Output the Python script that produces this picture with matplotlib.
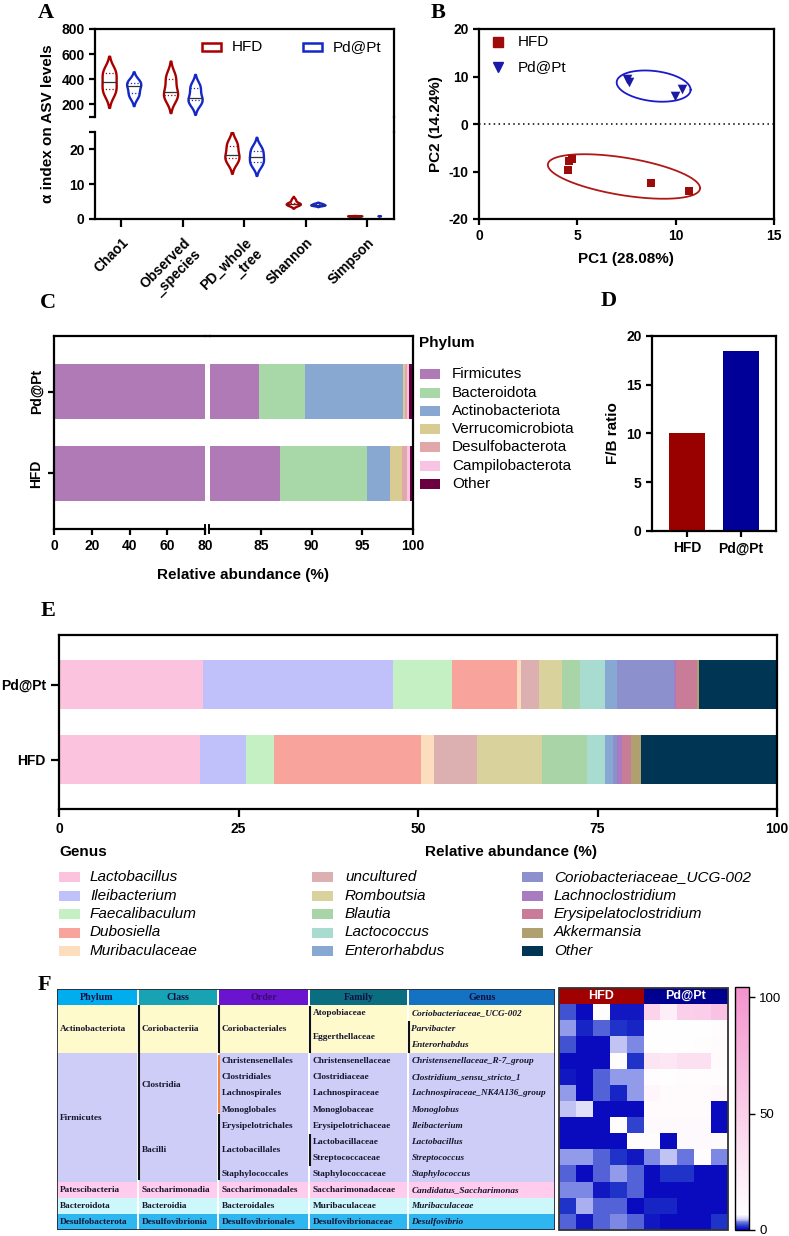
import numpy as np
import matplotlib
matplotlib.use('Agg')
import matplotlib.pyplot as plt
from matplotlib.patches import Rectangle
from matplotlib.lines import Line2D
from matplotlib.colors import LinearSegmentedColormap, Normalize
from matplotlib.cm import ScalarMappable

plt.rcParams['font.family'] = ['Liberation Sans', 'DejaVu Sans']
plt.rcParams['axes.unicode_minus'] = False

# ======================= DATA =======================
# Panel A: alpha diversity samples (per metric, per group)
alpha_metrics = ['Chao1', 'Observed\n_species', 'PD_whole\n_tree', 'Shannon', 'Simpson']
alpha_hfd = [
    [290, 320, 380, 450, 470],
    [250, 275, 300, 400, 430],
    [16.5, 17.5, 18.5, 21.0, 22.0],
    [4.0, 4.2, 4.4, 4.6, 5.6],
    [0.85, 0.88, 0.90, 0.92, 0.95],
]
alpha_pdpt = [
    [265, 290, 345, 370, 385],
    [210, 235, 250, 330, 350],
    [15.5, 16.5, 17.8, 19.5, 20.5],
    [3.9, 4.0, 4.1, 4.3, 4.5],
    [0.90, 0.91, 0.92, 0.93, 0.94],
]
groups = ['HFD', 'Pd@Pt']

# Panel B: PCA scores
pca_hfd_x = [4.5, 4.6, 4.75, 8.75, 10.7]
pca_hfd_y = [-9.7, -7.8, -7.3, -12.5, -14.0]
pca_pdpt_x = [7.55, 7.65, 9.95, 10.3]
pca_pdpt_y = [9.4, 8.9, 6.0, 7.4]
# confidence ellipses: centre x, centre y, half-width, half-thickness, tilt slope
ell_hfd = (7.37, -11.05, 3.87, 4.0, 0.633)
ell_pdpt = (8.88, 7.98, 1.88, 3.2, 0.41)

# Panel C: phylum relative abundance (%)
phyla = ['Firmicutes', 'Bacteroidota', 'Actinobacteriota', 'Verrucomicrobiota',
         'Desulfobacterota', 'Campilobacterota', 'Other']
phylum_hfd = [86.9, 8.6, 2.2, 1.25, 0.5, 0.25, 0.3]
phylum_pdpt = [84.8, 4.6, 9.6, 0.25, 0.2, 0.15, 0.4]

# Panel D: F/B ratio
fb_ratio = [10.1, 18.5]

# Panel E: genus relative abundance (%)
genera = ['Lactobacillus', 'Ileibacterium', 'Faecalibaculum', 'Dubosiella', 'Muribaculaceae',
          'uncultured', 'Romboutsia', 'Blautia', 'Lactococcus', 'Enterorhabdus',
          'Coriobacteriaceae_UCG-002', 'Lachnoclostridium', 'Erysipelatoclostridium',
          'Akkermansia', 'Other']
genus_hfd = [19.7, 6.3, 4.0, 20.4, 1.8, 6.0, 9.1, 6.2, 2.5, 1.2, 0.5, 0.7, 1.3, 1.4, 18.9]
genus_pdpt = [20.1, 26.4, 8.3, 9.0, 0.5, 2.6, 3.1, 2.6, 3.4, 1.7, 8.0, 0.3, 2.9, 0.3, 10.8]

# Panel F: taxonomy table + heatmap
tax_phylum = ['Actinobacteriota'] * 3 + ['Firmicutes'] * 8 + ['Patescibacteria', 'Bacteroidota', 'Desulfobacterota']
tax_class = ['Coriobacteriia'] * 3 + ['Clostridia'] * 4 + ['Bacilli'] * 4 + ['Saccharimonadia', 'Bacteroidia', 'Desulfovibrionia']
tax_order = ['Coriobacteriales'] * 3 + ['Christensenellales', 'Clostridiales', 'Lachnospirales', 'Monoglobales',
             'Erysipelotrichales', 'Lactobacillales', 'Lactobacillales', 'Staphylococcales',
             'Saccharimonadales', 'Bacteroidales', 'Desulfovibrionales']
tax_family = ['Atopobiaceae', 'Eggerthellaceae', 'Eggerthellaceae', 'Christensenellaceae', 'Clostridiaceae',
              'Lachnospiraceae', 'Monoglobaceae', 'Erysipelotrichaceae', 'Lactobacillaceae', 'Streptococcaceae',
              'Staphylococcaceae', 'Saccharimonadaceae', 'Muribaculaceae', 'Desulfovibrionaceae']
tax_genus = ['Coriobacteriaceae_UCG-002', 'Parvibacter', 'Enterorhabdus', 'Christensenellaceae_R-7_group',
             'Clostridium_sensu_stricto_1', 'Lachnospiraceae_NK4A136_group', 'Monoglobus', 'Ileibacterium',
             'Lactobacillus', 'Streptococcus', 'Staphylococcus', 'Candidatus_Saccharimonas',
             'Muribaculaceae', 'Desulfovibrio']
tax_headers = ['Phylum', 'Class', 'Order', 'Family', 'Genus']
heat_values = [
    [2.4, 0.4, 9, 0.5, 0.6, 45, 22, 50, 52, 62],
    [3.9, 1.2, 2.6, 1.6, 1.0, 8, 8, 8, 8, 9],
    [2.2, 0.4, 0.4, 4.6, 3.4, 8, 8, 8, 9, 10],
    [0.3, 0.3, 0.3, 9, 1.3, 30, 28, 35, 35, 10],
    [0.8, 0.4, 2.5, 3.9, 3.9, 9, 7, 9, 9, 9],
    [3.9, 0.4, 2.5, 1.0, 3.9, 15, 10, 10, 10, 14],
    [4.6, 5.4, 0.3, 0.3, 0.3, 10, 10, 10, 10, 0.3],
    [0.3, 0.3, 0.3, 9, 1.8, 12, 12, 12, 12, 0.3],
    [0.3, 0.3, 0.3, 0.3, 9, 9, 0.4, 12, 12, 10],
    [3.7, 3.7, 2.5, 1.5, 0.8, 3.5, 4.5, 3.1, 9, 3.3],
    [2.5, 0.4, 2.8, 3.9, 2.6, 0.4, 1.4, 1.4, 0.4, 0.4],
    [3.4, 3.4, 0.6, 1.5, 2.8, 0.3, 0.3, 0.3, 0.3, 0.3],
    [1.6, 4.2, 2.5, 2.5, 0.3, 1.0, 1.0, 0.3, 0.3, 0.3],
    [2.6, 0.8, 2.5, 3.5, 2.5, 0.5, 0.4, 0.4, 0.4, 1.6],
]
heat_max = 104.3

# ======================= STYLE =======================
W, H = 789, 1236
RED = '#A80000'
BLUE = '#1428C8'
DRED = '#990000'
NAVY = '#000099'
phylum_colors = ['#B07AB6', '#A8D8A8', '#88A8D2', '#D8CC92', '#E0A8A8', '#F9C3E3', '#6A0040']
genus_colors = ['#FBC3DD', '#C0C0FA', '#C4F0C4', '#F8A49C', '#FCDDBE', '#DCB0B0', '#DAD29C',
                '#A8D4A8', '#A8DCD0', '#88A8D4', '#8C90CC', '#A87CC0', '#C87C98', '#B0A070', '#003554']
header_colors = ['#00AEEF', '#17A3B4', '#6A14D0', '#0B6E80', '#1472C2']
row_bg = {'Actinobacteriota': '#FFFACC', 'Firmicutes': '#CDCDF7', 'Patescibacteria': '#FFCCEE',
          'Bacteroidota': '#CCF8FB', 'Desulfobacterota': '#2DB6EF'}
TICK = 10
LAB = 11
SPW = 1.6

fig = plt.figure(figsize=(W / 100, H / 100), dpi=100)


def box(l, t, r, b):
    return [l / W, 1 - b / H, (r - l) / W, (b - t) / H]


def fx(x):
    return x / W


def fy(y):
    return 1 - y / H


def style_ax(ax):
    for s in ax.spines.values():
        s.set_linewidth(SPW)
    ax.tick_params(width=SPW, length=4, labelsize=TICK)
    for lab in ax.get_xticklabels() + ax.get_yticklabels():
        lab.set_fontweight('bold')


def fig_line(x0, y0, x1, y1, **kw):
    fig.add_artist(Line2D([fx(x0), fx(x1)], [fy(y0), fy(y1)], transform=fig.transFigure, **kw))


def panel_letter(x, y, s):
    fig.text(fx(x), fy(y), s, fontsize=16, fontweight='bold', family=['Liberation Serif'],
             ha='center', va='center')


# ======================= PANEL A =======================
def draw_violin(ax, samples, pos, halfw, color):
    s = np.asarray(samples, float)
    bw = s.std(ddof=1) * len(s) ** (-0.2)
    y = np.linspace(s.min() - 2.0 * bw, s.max() + 2.0 * bw, 300)
    d = np.exp(-0.5 * ((y[:, None] - s[None, :]) / bw) ** 2).sum(1)
    d = d / d.max() * halfw
    ax.fill_betweenx(y, pos - d, pos + d, facecolor='white', edgecolor=color, lw=1.7, zorder=3)
    med = np.median(s)
    q1, q3 = np.percentile(s, [25, 75])
    for q, ls in ((med, '-'), (q1, ':'), (q3, ':')):
        w = np.interp(q, y, d)
        ax.plot([pos - w, pos + w], [q, q], color='#333333' if ls == '-' else color,
                lw=0.9, ls=ls, zorder=4)


axA_top = fig.add_axes(box(95, 29, 394, 117))
axA_bot = fig.add_axes(box(95, 132, 394, 219))
for ax in (axA_top, axA_bot):
    ax.set_xlim(-0.43, 4.44)
    for i in range(len(alpha_metrics)):
        draw_violin(ax, alpha_hfd[i], i - 0.2, 0.115, RED)
        draw_violin(ax, alpha_pdpt[i], i + 0.2, 0.02 if i == 4 else 0.115, BLUE)
axA_top.set_ylim(100, 800)
axA_top.set_yticks([100, 200, 400, 600, 800])
axA_top.set_yticklabels(['', '200', '400', '600', '800'])
axA_top.spines['bottom'].set_visible(False)
axA_top.set_xticks([])
axA_bot.set_ylim(0, 25)
axA_bot.set_yticks([0, 10, 20, 25])
axA_bot.set_yticklabels(['0', '10', '20', ''])
axA_bot.spines['top'].set_visible(False)
axA_bot.set_xticks(range(len(alpha_metrics)))
axA_bot.set_xticklabels(alpha_metrics, rotation=45, ha='right', va='top', rotation_mode='anchor')
style_ax(axA_top)
style_ax(axA_bot)
axA_bot.tick_params(axis='x', length=6, pad=6)
fig_line(394, 117, 394, 132, color='black', lw=SPW)
fig.text(fx(48), fy(124), 'α index on ASV levels', rotation=90, ha='center', va='center',
         fontsize=LAB, fontweight='bold')
# legend
for k, (g, c, xr) in enumerate(zip(groups, [RED, BLUE], [202, 303])):
    fig.add_artist(Rectangle((fx(xr), fy(51)), 19 / W, 8 / H, transform=fig.transFigure,
                             facecolor='white', edgecolor=c, lw=1.8))
    fig.text(fx(xr + 30), fy(47), g, fontsize=LAB, va='center', ha='left')

# ======================= PANEL B =======================
axB = fig.add_axes(box(479, 29, 774, 219))
axB.set_xlim(0, 15)
axB.set_ylim(-20, 20)
axB.set_xticks([0, 5, 10, 15])
axB.set_yticks([-20, -10, 0, 10, 20])
axB.axhline(0, color='black', lw=1.1, ls=(0, (1, 2.2)))
t = np.linspace(0, 2 * np.pi, 300)
for (cx, cy, a, b, m), c in ((ell_hfd, '#B01818'), (ell_pdpt, '#1A1ACC')):
    axB.plot(cx + a * np.cos(t), cy + b * np.sin(t) - m * a * np.cos(t), color=c, lw=1.3)
axB.scatter(pca_hfd_x, pca_hfd_y, marker='s', s=38, color='#9E0B0B', zorder=5, lw=0)
axB.scatter(pca_pdpt_x, pca_pdpt_y, marker='v', s=48, color='#1A1AA6', zorder=5, lw=0)
style_ax(axB)
fig.text(fx(626), fy(259), 'PC1 (28.08%)', ha='center', va='center', fontsize=LAB, fontweight='bold')
fig.text(fx(436), fy(124), 'PC2 (14.24%)', rotation=90, ha='center', va='center', fontsize=LAB,
         fontweight='bold')
fig.add_artist(Line2D([fx(498)], [fy(42)], marker='s', color='#9E0B0B', ms=6.5, lw=0,
                      transform=fig.transFigure))
fig.add_artist(Line2D([fx(498)], [fy(67)], marker='v', color='#1A1AA6', ms=7, lw=0,
                      transform=fig.transFigure))
fig.text(fx(518), fy(42), groups[0], fontsize=LAB, va='center')
fig.text(fx(518), fy(67), groups[1], fontsize=LAB, va='center')

# ======================= PANEL C =======================
axC1 = fig.add_axes(box(54, 336, 205, 529))
axC2 = fig.add_axes(box(210, 336, 413, 529))
for ax in (axC1, axC2):
    for yi, vals in enumerate([phylum_hfd, phylum_pdpt]):
        left = 0.0
        for v, c in zip(vals, phylum_colors):
            ax.barh(yi, v, left=left, height=0.67, color=c, lw=0)
            left += v
    ax.set_ylim(-0.677, 1.677)
axC1.set_xlim(0, 80)
axC2.set_xlim(80, 100)
axC1.set_xticks([0, 20, 40, 60, 80])
axC2.set_xticks([85, 90, 95, 100])
axC1.set_yticks([0, 1])
axC1.set_yticklabels(groups, rotation=90, va='center')
axC2.set_yticks([])
axC1.spines['right'].set_visible(False)
axC2.spines['left'].set_visible(False)
style_ax(axC1)
style_ax(axC2)
fig_line(205, 336, 210, 336, color='black', lw=SPW)
fig_line(205, 525, 205, 533, color='black', lw=1.4)
fig_line(209, 525, 209, 533, color='black', lw=1.4)
fig.text(fx(243), fy(575), 'Relative abundance (%)', ha='center', va='center', fontsize=LAB,
         fontweight='bold')
fig.text(fx(419), fy(343), 'Phylum', fontsize=LAB, fontweight='bold', va='center', ha='left')
for i, (name, c) in enumerate(zip(phyla, phylum_colors)):
    yc = 374.3 + i * 18.25
    fig.add_artist(Rectangle((fx(420), fy(yc + 5)), 20 / W, 10 / H, transform=fig.transFigure,
                             facecolor=c, lw=0))
    fig.text(fx(452), fy(yc), name, fontsize=LAB, va='center', ha='left')

# ======================= PANEL D =======================
axD = fig.add_axes(box(652, 336, 776, 531))
axD.bar([0, 1], fb_ratio, width=0.67, color=[DRED, NAVY])
axD.set_xlim(-0.65, 1.65)
axD.set_ylim(0, 20)
axD.set_yticks([0, 5, 10, 15, 20])
axD.set_xticks([0, 1])
axD.set_xticklabels(groups)
style_ax(axD)
fig.text(fx(613), fy(433), 'F/B ratio', rotation=90, ha='center', va='center', fontsize=LAB,
         fontweight='bold')

# ======================= PANEL E =======================
axE = fig.add_axes(box(59, 635, 777, 809))
for yi, vals in enumerate([genus_hfd, genus_pdpt]):
    left = 0.0
    for v, c in zip(vals, genus_colors):
        axE.barh(yi, v, left=left, height=0.65, color=c, lw=0)
        left += v
axE.set_xlim(0, 100)
axE.set_ylim(-0.66, 1.66)
axE.set_xticks([0, 25, 50, 75, 100])
axE.set_yticks([0, 1])
axE.set_yticklabels(groups)
style_ax(axE)
axE.tick_params(length=6)
fig.text(fx(511), fy(852), 'Relative abundance (%)', ha='center', va='center', fontsize=LAB,
         fontweight='bold')
fig.text(fx(59), fy(852), 'Genus', ha='left', va='center', fontsize=LAB, fontweight='bold')
leg_cols = [(59, 90), (312, 345), (522, 554)]
for i, (name, c) in enumerate(zip(genera, genus_colors)):
    col, row = divmod(i, 5)
    px, tx = leg_cols[col]
    yc = 877 + row * 18.5
    fig.add_artist(Rectangle((fx(px), fy(yc + 5)), 21 / W, 10 / H, transform=fig.transFigure,
                             facecolor=c, lw=0))
    fig.text(fx(tx), fy(yc), name, fontsize=LAB, style='italic', va='center', ha='left')

# ======================= PANEL F =======================
axT = fig.add_axes(box(57, 989, 555, 1230))
axT.set_xlim(57, 555)
axT.set_ylim(14, -1)
axT.axis('off')
col_edges = [(57, 137), (139, 217), (219, 308), (310, 407), (409, 555)]
columns = [tax_phylum, tax_class, tax_order, tax_family, tax_genus]
nrow = len(tax_genus)
for ci, ((x0, x1), col) in enumerate(zip(col_edges, columns)):
    axT.add_patch(Rectangle((x0, -1), x1 - x0, 1, facecolor=header_colors[ci], lw=0))
    axT.text((x0 + x1) / 2, -0.5, tax_headers[ci], ha='center', va='center', fontsize=7.2,
             fontweight='bold', family=['Liberation Serif'],
             color='#3A0A70' if ci == 2 else '#101040')
    for r in range(nrow):
        axT.add_patch(Rectangle((x0, r), x1 - x0, 1, facecolor=row_bg[tax_phylum[r]], lw=0))
    r = 0
    while r < nrow:
        e = r
        while e + 1 < nrow and col[e + 1] == col[r]:
            e += 1
        axT.text(x0 + 2.5, (r + e + 1) / 2, col[r], ha='left', va='center', fontsize=6.7,
                 fontweight='bold', family=['Liberation Serif'], color='#15152E',
                 style='italic' if ci == 4 else 'normal')
        r = e + 1
# group separator bars
for (xb, r0, r1, c) in [(139.5, 0, 10.9, '#111111'), (219.5, 0, 3, '#111111'), (219.5, 3.1, 6.7, '#F08040'),
                        (219.5, 6.8, 10.9, '#111111'), (310.5, 0.05, 3, '#111111'), (310.5, 8.0, 10.0, '#111111'),
                        (409.5, 1.0, 3.0, '#111111')]:
    axT.plot([xb, xb], [r0, r1], color=c, lw=1.5, solid_capstyle='butt')
axT.add_patch(Rectangle((57, -1), 498, 15, fill=False, edgecolor='#2A2A3A', lw=1.3))

# heatmap
cmap = LinearSegmentedColormap.from_list('bwp', [
    (0.0, '#0A0ABE'), (1.2 / heat_max, '#1E32C8'), (2.5 / heat_max, '#5664D8'),
    (3.8 / heat_max, '#98A0EC'), (4.8 / heat_max, '#D2D4F6'), (6.5 / heat_max, '#FFFFFF'),
    (1.0, '#F493CD')])
norm = Normalize(0, heat_max)
axHm = fig.add_axes(box(559, 988, 728, 1230))
axHm.pcolormesh(np.arange(11), np.arange(15), np.array(heat_values), cmap=cmap, norm=norm)
axHm.set_xlim(0, 10)
axHm.set_ylim(14, -1)
axHm.axis('off')
axHm.add_patch(Rectangle((0, -1), 5, 1, facecolor='#A00000', lw=0))
axHm.add_patch(Rectangle((5, -1), 5, 1, facecolor='#000090', lw=0))
axHm.text(2.5, -0.5, groups[0], color='white', ha='center', va='center', fontsize=9, fontweight='bold')
axHm.text(7.5, -0.5, groups[1], color='white', ha='center', va='center', fontsize=9, fontweight='bold')
axHm.add_patch(Rectangle((0, -1), 10, 15, fill=False, edgecolor='#333333', lw=1.3, clip_on=False))

cax = fig.add_axes(box(735, 987, 749, 1230))
cb = fig.colorbar(ScalarMappable(norm=norm, cmap=cmap), cax=cax)
cb.set_ticks([0, 50, 100])
cb.ax.tick_params(labelsize=9.5, width=1, length=4)
cb.outline.set_linewidth(1.0)

# panel letters
panel_letter(46, 13, 'A')
panel_letter(438, 13, 'B')
panel_letter(48, 303, 'C')
panel_letter(609, 301, 'D')
panel_letter(48, 611, 'E')
panel_letter(44, 985, 'F')

fig.savefig('out.png', dpi=100)
